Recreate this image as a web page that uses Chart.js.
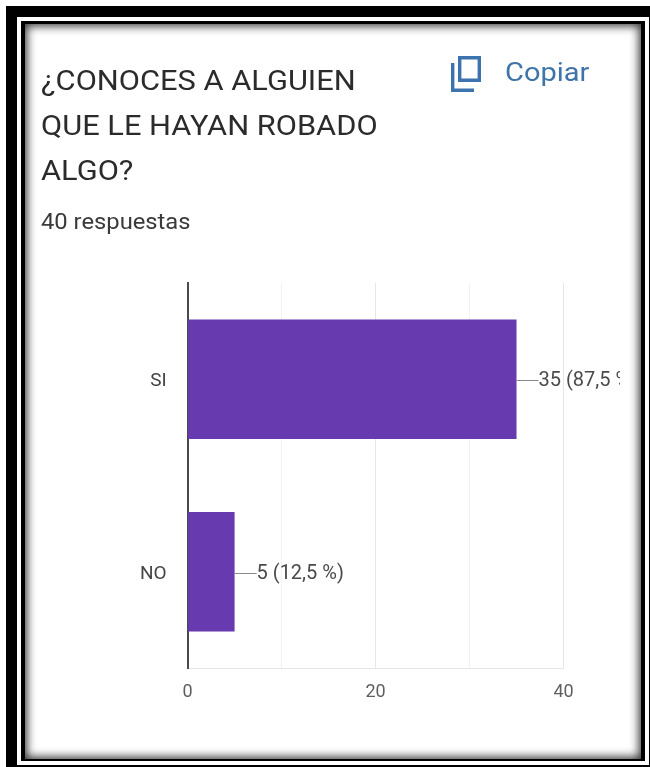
<!DOCTYPE html>
<html>
<head>
<meta charset="utf-8">
<script src="https://cdn.jsdelivr.net/npm/chart.js@4"></script>
<style>
    html, body { margin: 0; padding: 0; background: #fff; }
    body { width: 650px; height: 767px; position: relative; overflow: hidden; font-family: Roboto, sans-serif; }
    .frame { position: absolute; box-sizing: border-box; }
    #frameOuter { left: 6px; top: 6px; width: 660px; height: 780px; background: #000; }
    #frameWhite { left: 17px; top: 17px; width: 632px; height: 748px; background: #fff; }
    #frameInner { left: 21px; top: 21px; width: 624px; height: 740px; background: #000; }
    #framePaper { left: 25px; top: 24px; width: 616px; height: 735px; background: #fff; box-shadow: inset 0 0 10px 2px rgba(0,0,0,0.8); }
    .stretch { transform-origin: left top; }
    #title { position: absolute; left: 41px; top: 58px; white-space: nowrap; font-size: 28px; line-height: 45px; color: #2b2b2b; filter: blur(0.4px); transform: scaleX(1.1); }
    #count { position: absolute; left: 41px; top: 209px; white-space: nowrap; font-size: 22px; line-height: 26px; color: #3a3a3a; filter: blur(0.4px); transform: scaleX(1.08); }
    #copyIcon { position: absolute; left: 448px; top: 53px; }
    #copyText { position: absolute; left: 505px; top: 58px; white-space: nowrap; font-size: 25px; line-height: 30px; color: #3f74a8; filter: blur(0.4px); transform: scaleX(1.16); }
    #chartBox { position: absolute; left: 30px; top: 270px; width: 590px; height: 450px; }
</style>
</head>
<body>
<div class="frame" id="frameOuter"></div>
<div class="frame" id="frameWhite"></div>
<div class="frame" id="frameInner"></div>
<div class="frame" id="framePaper"></div>
<div id="title" class="stretch">¿CONOCES A ALGUIEN<br>QUE LE HAYAN ROBADO<br>ALGO?</div>
<div id="count" class="stretch">40 respuestas</div>
<svg id="copyIcon" width="36" height="42" viewBox="0 0 36 42">
    <path d="M11.7 4.7 H31.3 V27.3 H11.7 Z" fill="none" stroke="#3c72ae" stroke-width="3.4"/>
    <path d="M4.7 10 V37.3 H26" fill="none" stroke="#3c72ae" stroke-width="3.4"/>
</svg>
<div id="copyText" class="stretch">Copiar</div>
<div id="chartBox"><canvas id="surveyChart" width="590" height="450"></canvas></div>

<script>
const categories = ['SI', 'NO'];
const responses = [35, 5];
const barLabels = ['35 (87,5 %)', '5 (12,5 %)'];
const xTickLabels = [0, 20, 40];

// Leader line and count label next to each bar
const barLabelPlugin = {
    id: 'barLabels',
    afterDatasetsDraw(chart) {
        const ctx = chart.ctx;
        const bars = chart.getDatasetMeta(0).data;
        ctx.save();
        ctx.font = '20px Roboto';
        ctx.textBaseline = 'middle';
        bars.forEach((bar, i) => {
            ctx.strokeStyle = '#8a8a8a';
            ctx.lineWidth = 1;
            ctx.beginPath();
            ctx.moveTo(bar.x, Math.round(bar.y) + 1.5);
            ctx.lineTo(bar.x + 22, Math.round(bar.y) + 1.5);
            ctx.stroke();
            ctx.fillStyle = '#4a4a4a';
            ctx.fillText(barLabels[i], bar.x + 22, bar.y + 2);
        });
        ctx.restore();
    }
};

new Chart(document.getElementById('surveyChart'), {
    type: 'bar',
    data: {
        labels: categories,
        datasets: [{
            data: responses,
            backgroundColor: '#673ab0',
            categoryPercentage: 0.62,
            barPercentage: 1
        }]
    },
    options: {
        indexAxis: 'y',
        responsive: false,
        animation: false,
        layout: { padding: { top: 13, right: 56.5, left: 0, bottom: 0 } },
        plugins: { legend: { display: false }, tooltip: { enabled: false } },
        scales: {
            x: {
                min: 0,
                max: 40,
                afterFit(scale) { scale.height = 52; },
                ticks: {
                    stepSize: 10,
                    autoSkip: false,
                    maxRotation: 0,
                    padding: 14,
                    color: '#5f5f5f',
                    font: { family: 'Roboto', size: 18 },
                    callback: value => xTickLabels.includes(value) ? value : ''
                },
                grid: {
                    drawTicks: false,
                    color: ctx => xTickLabels.includes(ctx.tick.value) ? '#e6e6e6' : '#f2f2f2'
                },
                border: { color: '#e6e6e6', width: 1 }
            },
            y: {
                // the category labels would otherwise push the plot top down
                afterFit(scale) {
                    scale.width = 157.6;
                    scale.paddingTop = 0;
                    scale.paddingBottom = 0;
                },
                ticks: {
                    padding: 21,
                    labelOffset: 2,
                    color: '#444444',
                    font: { family: 'Roboto', size: 19 }
                },
                grid: { display: false, drawTicks: false },
                border: { color: '#4a4a4a', width: 2 }
            }
        }
    },
    plugins: [barLabelPlugin]
});
</script>
</body>
</html>
